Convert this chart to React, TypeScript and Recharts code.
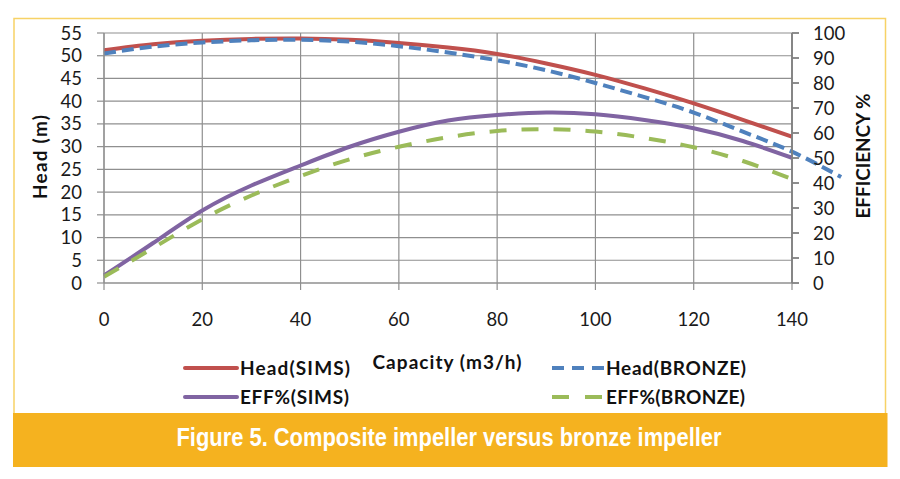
import React from 'react';
import { LineChart, Line, XAxis, YAxis, CartesianGrid } from 'recharts';

// capacity (m3/h) sample points
const capacity = [0, 10, 20, 30, 40, 50, 60, 70, 80, 90, 100, 110, 120, 130, 140];
const capacityBronzeHead = [0, 10, 20, 30, 40, 50, 60, 70, 80, 90, 100, 110, 120, 130, 140, 150];

// head in metres (left axis)
const headSims = [51.2, 52.5, 53.3, 53.7, 53.8, 53.5, 52.8, 51.8, 50.4, 48.3, 45.8, 42.8, 39.5, 35.9, 32.2];
const headBronze = [50.5, 52.0, 52.9, 53.4, 53.5, 53.1, 52.1, 50.7, 49.0, 46.8, 44.0, 40.9, 37.5, 33.3, 28.9, 23.3];

// efficiency in % (right axis)
const effSims = [3, 16, 29, 39, 47, 54.5, 60.5, 65, 67.2, 68.2, 67.5, 65.2, 61.9, 56.8, 50.1];
const effBronze = [2.5, 14, 25.5, 35, 42.8, 49.5, 54.5, 58.3, 60.8, 61.5, 60.6, 58.0, 54.3, 48.8, 41.6];

const xTicks = [0, 20, 40, 60, 80, 100, 120, 140];
const headTicks = [0, 5, 10, 15, 20, 25, 30, 35, 40, 45, 50, 55];
const effTicks = [0, 10, 20, 30, 40, 50, 60, 70, 80, 90, 100];

const toRows = (xs: number[], ys: number[]) => xs.map((x, i) => ({ x, v: ys[i] }));

const series = [
  { name: 'Head(SIMS)', color: '#c0504d', dash: undefined, legendDash: undefined, data: toRows(capacity, headSims), axis: 'left', xAxis: 'main' },
  { name: 'Head(BRONZE)', color: '#4f81bd', dash: '12 6', legendDash: '12 8', data: toRows(capacityBronzeHead, headBronze), axis: 'left', xAxis: 'ext' },
  { name: 'EFF%(SIMS)', color: '#8064a2', dash: undefined, legendDash: undefined, data: toRows(capacity, effSims), axis: 'right', xAxis: 'main' },
  { name: 'EFF%(BRONZE)', color: '#9bbb59', dash: '17 15', legendDash: '17 16', data: toRows(capacity, effBronze), axis: 'right', xAxis: 'main' },
];

// legend slots (2 x 2 grid)
const legendSlots = [
  { lx: 185, tx: 240, y: 368, w: 110 },
  { lx: 552, tx: 606, y: 368, w: 140 },
  { lx: 185, tx: 240, y: 397, w: 109 },
  { lx: 552, tx: 606, y: 397, w: 139 },
];

const gridColor = '#8f8f8f';
const tickStyle = { fill: '#1a1a1a', fontSize: 18.5, fontFamily: 'Lato, "Open Sans", sans-serif' };
const boldFont = 'Lato, "Open Sans", sans-serif';

// plot spans 104..792 px for 0..140; the bronze head curve runs on to 150
const plotWidth = 688;
const extPad = -(plotWidth * 10) / 140;

export default function App() {
  return (
    <div style={{ position: 'relative', width: 900, height: 479, background: '#fff' }}>
      <style>{'body{margin:0}'}</style>
      <svg width={900} height={479} style={{ position: 'absolute', left: 0, top: 0 }}>
        <rect x={14} y={18.5} width={871.5} height={400} fill="none" stroke="#f7d266" strokeWidth={1.5} />
        <rect x={13} y={413} width={874.5} height={54} fill="#f5b21f" />
        <text
          x={449}
          y={446}
          textAnchor="middle"
          fill="#fff"
          fontFamily='"Liberation Sans Narrow", "Liberation Sans", sans-serif'
          fontWeight="bold"
          fontSize={26}
          textLength={545}
          lengthAdjust="spacingAndGlyphs"
        >
          Figure 5. Composite impeller versus bronze impeller
        </text>
        <text
          transform="translate(46.5,157) rotate(-90)"
          textAnchor="middle"
          fontFamily={boldFont}
          fontWeight="bold"
          fontSize={19}
          fill="#111"
          textLength={84}
        >
          Head (m)
        </text>
        <text
          transform="translate(869.5,156) rotate(-90)"
          textAnchor="middle"
          fontFamily={boldFont}
          fontWeight="bold"
          fontSize={19}
          fill="#111"
          textLength={125}
        >
          EFFICIENCY %
        </text>
        <text x={447} y={368.5} textAnchor="middle" fontFamily={boldFont} fontWeight="bold" fontSize={19} fill="#111" textLength={149}>
          Capacity (m3/h)
        </text>
        {series.map((s, i) => {
          const slot = legendSlots[i];
          return (
            <g key={s.name}>
              <line
                x1={slot.lx}
                x2={slot.lx + 52}
                y1={slot.y}
                y2={slot.y}
                stroke={s.color}
                strokeWidth={4}
                strokeDasharray={s.legendDash}
                strokeLinecap={s.legendDash ? 'butt' : 'round'}
              />
              <text x={slot.tx} y={slot.y + 7} fontFamily={boldFont} fontWeight="bold" fontSize={19} fill="#111" textLength={slot.w}>
                {s.name}
              </text>
            </g>
          );
        })}
      </svg>
      <div style={{ position: 'absolute', left: 0, top: 0 }}>
        <LineChart width={900} height={410} margin={{ top: 33, right: 0, left: 0, bottom: 87 }}>
          <CartesianGrid xAxisId="main" yAxisId="left" stroke={gridColor} strokeWidth={1.2} />
          <XAxis
            xAxisId="main"
            type="number"
            dataKey="x"
            domain={[0, 140]}
            ticks={xTicks}
            interval={0}
            height={40}
            tickSize={7}
            tickMargin={23}
            stroke={gridColor}
            strokeWidth={1.2}
            tick={tickStyle}
          />
          <XAxis
            xAxisId="ext"
            type="number"
            dataKey="x"
            domain={[0, 150]}
            orientation="top"
            height={0}
            hide
            padding={{ left: 0, right: extPad }}
          />
          <YAxis
            yAxisId="left"
            domain={[0, 55]}
            ticks={headTicks}
            interval={0}
            width={104}
            tickSize={7}
            tickMargin={15}
            stroke={gridColor}
            strokeWidth={1.2}
            tick={tickStyle}
          />
          <YAxis
            yAxisId="right"
            orientation="right"
            domain={[0, 100]}
            ticks={effTicks}
            interval={0}
            width={108}
            tickSize={7}
            tickMargin={14}
            stroke="#808080"
            strokeWidth={1.8}
            tick={tickStyle}
          />
          {series.map((s) => (
            <Line
              key={s.name}
              data={s.data}
              dataKey="v"
              name={s.name}
              xAxisId={s.xAxis}
              yAxisId={s.axis}
              type="natural"
              stroke={s.color}
              strokeWidth={4}
              strokeDasharray={s.dash}
              dot={false}
              activeDot={false}
              isAnimationActive={false}
            />
          ))}
        </LineChart>
      </div>
    </div>
  );
}
